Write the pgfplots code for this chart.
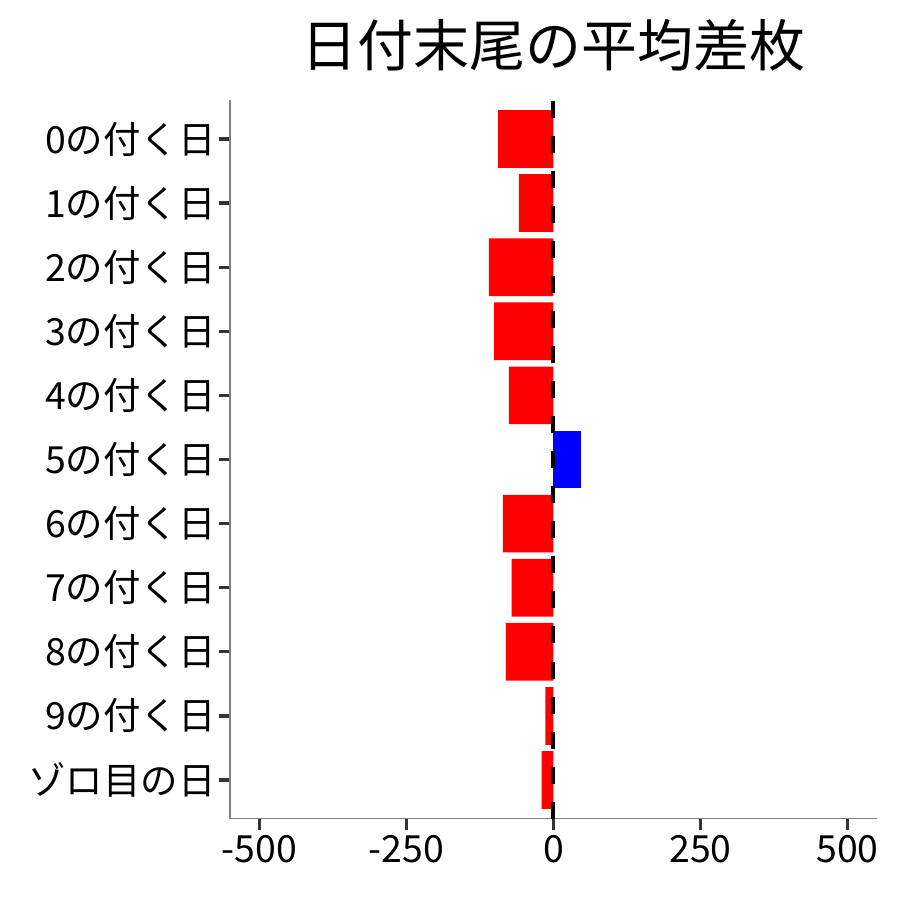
\documentclass[border=0pt]{standalone}
\usepackage{pgfplots}
\pgfplotsset{compat=1.18}
\usepackage{fontspec}
\setmainfont{Noto Sans CJK JP}
\definecolor{axisgray}{HTML}{7F7F7F}
\definecolor{tickgray}{HTML}{333333}
\begin{document}
\begin{tikzpicture}
\begin{axis}[
    name=ax,
    width=323.5pt, height=359pt, scale only axis,
    xmin=-550, xmax=550, ymin=-0.6, ymax=10.6,
    axis lines=left,
    axis line style={-, axisgray, line width=0.8pt},
    xtick={-500,-250,0,250,500},
    xticklabels={-500,-250,0,250,500},
    ytick={0,1,2,3,4,5,6,7,8,9,10},
    yticklabels={ゾロ目の日,9の付く日,8の付く日,7の付く日,6の付く日,5の付く日,4の付く日,3の付く日,2の付く日,1の付く日,0の付く日},
    tick align=outside,
    major tick length=5.5pt,
    tick style={tickgray, line width=1.6pt},
    tick label style={font=\fontsize{18.7}{20}\selectfont, black},
    x tick label style={inner sep=2.5pt},
    y tick label style={inner sep=1.5pt},
    clip=false,
]
% negative means (red)
\addplot[xbar, bar width=0.9, bar shift=0pt, draw=none, fill=red] coordinates {
    (-94,10) (-59,9) (-110,8) (-101,7) (-76,6)
    (-86,4) (-71,3) (-81,2) (-14,1) (-20,0)
};
% positive mean (blue)
\addplot[xbar, bar width=0.9, bar shift=0pt, draw=none, fill=blue] coordinates {
    (46,5)
};
% zero reference line
\addplot[black, line width=2pt, dash pattern=on 8.5pt off 9pt] coordinates {(0,-0.6) (0,10.6)};
\end{axis}
\node[font=\fontsize{28}{30}\selectfont, yshift=27.75pt] at (ax.north) {日付末尾の平均差枚};
\path (ax.south west) ++(-115pt,-40.75pt) rectangle ++(450pt,450pt);
\end{tikzpicture}
\end{document}
